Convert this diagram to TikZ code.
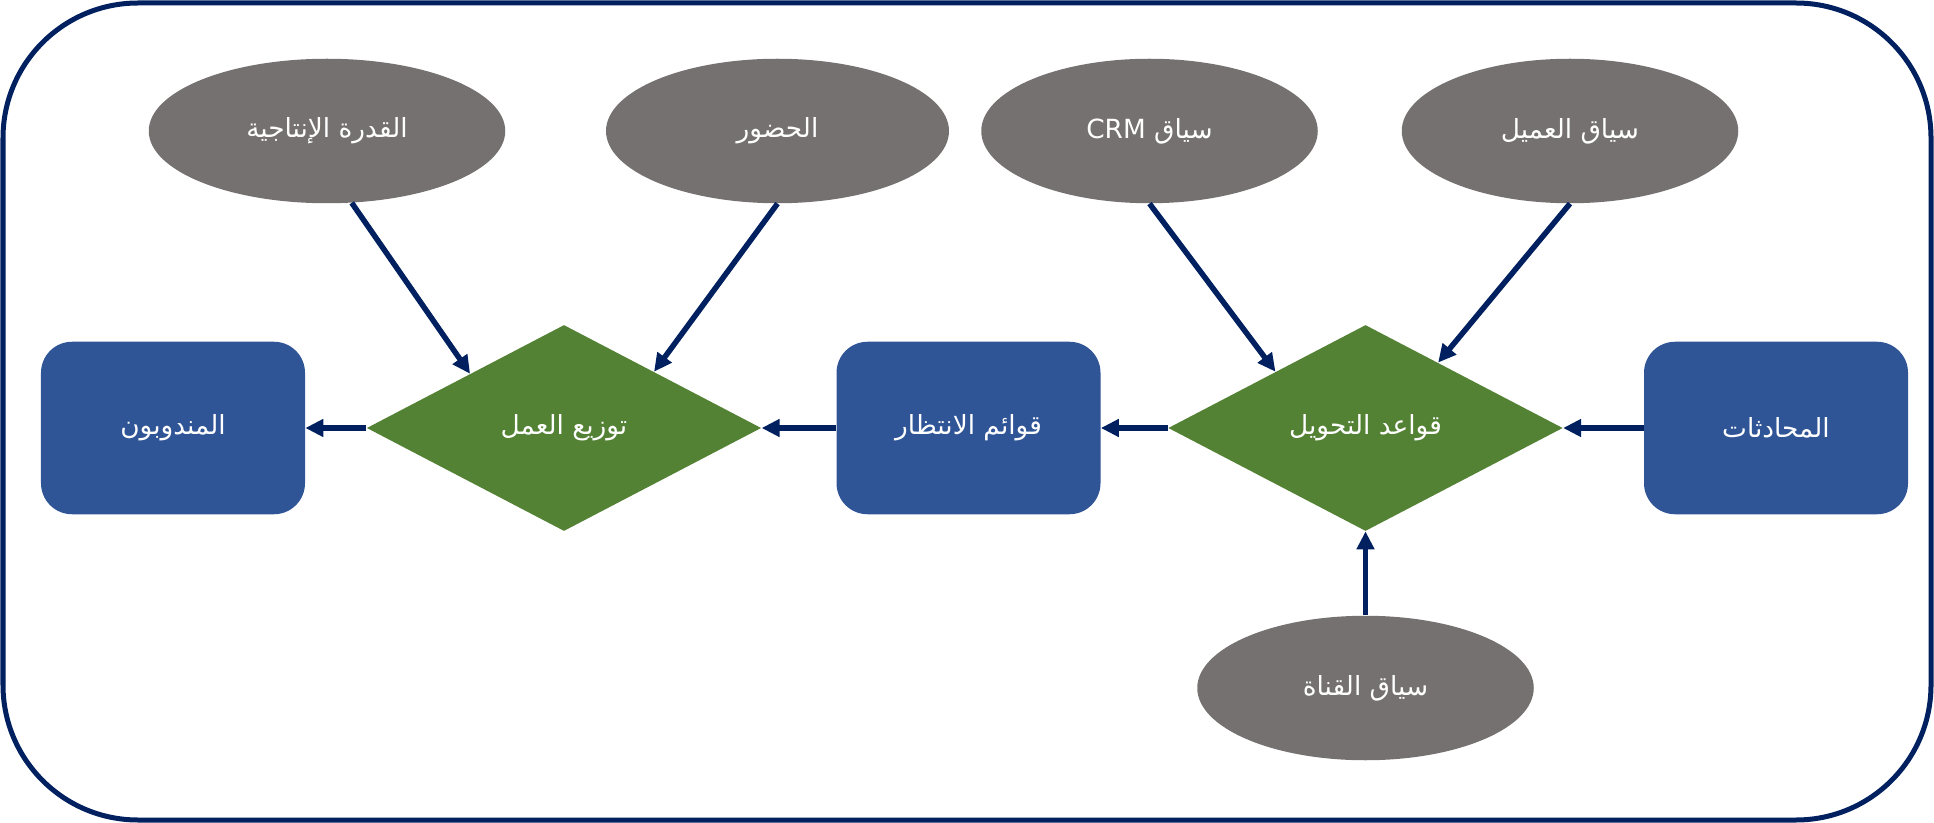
\documentclass[tikz,border=0pt]{standalone}
\usepackage{fontspec}
\newfontfamily\arabicfont[Script=Arabic]{DejaVu Sans}
\TeXXeTstate=1
\usepackage{tikz}
\usetikzlibrary{arrows.meta,shapes.geometric,positioning}
\definecolor{navy}{HTML}{002060}
\definecolor{ctxgray}{HTML}{767171}
\definecolor{boxblue}{HTML}{2F5597}
\definecolor{rulegreen}{HTML}{548235}

\begin{document}
\begin{tikzpicture}[->,>={Triangle[length=0.36cm,width=0.34cm]},on grid,node distance=8cm]
  \tikzstyle{every node}=[text=white,font=\arabicfont\fontsize{15}{18}\selectfont]
  \tikzstyle{ctx}=[ellipse,fill=ctxgray,minimum width=6.73cm,minimum height=2.89cm]
  \tikzstyle{stagebox}=[rounded corners=0.62cm,fill=boxblue,minimum width=5.28cm,minimum height=3.45cm]
  \tikzstyle{rulebox}=[diamond,fill=rulegreen,minimum width=7.89cm,minimum height=4.12cm,inner sep=0pt]
  \tikzstyle{every edge}=[draw,navy,line width=0.11cm]

  \useasboundingbox (0,0) rectangle (38.68,-16.46);
  \draw[-,navy,line width=0.1cm,rounded corners=2.7cm] (0.06,-0.06) rectangle (38.62,-16.40);

  \node[rulebox]  (routing)  at (27.31,-8.56)              {\beginR قواعد التحويل\endR};
  \node[stagebox] (convs)    [right=8.21cm of routing]     {\beginR المحادثات\endR};
  \node[stagebox] (queues)   [left=7.94cm of routing]      {\beginR قوائم الانتظار\endR};
  \node[rulebox]  (dist)     [left=8.09cm of queues]       {\beginR توزيع العمل\endR};
  \node[stagebox] (agents)   [left=7.82cm of dist]         {\beginR المندوبون\endR};
  \node[ctx,minimum width=7.13cm] (capacity) [above left=5.94cm and 4.74cm of dist]  {\beginR القدرة الإنتاجية\endR};
  \node[ctx,minimum width=6.86cm] (presence) [above right=5.94cm and 4.27cm of dist] {\beginR الحضور\endR};
  \node[ctx]      (crmctx)   [above left=5.94cm and 4.32cm of routing]  {\beginR سياق \beginL CRM\endL\endR};
  \node[ctx]      (custctx)  [above right=5.94cm and 4.09cm of routing] {\beginR سياق العميل\endR};
  \node[ctx]      (chanctx)  [below=5.2cm of routing]      {\beginR سياق القناة\endR};

  \path (capacity.-71) edge (dist.150);
  \path (presence.south) edge (dist.32);
  \path (crmctx.south) edge (routing.148);
  \path (custctx.south) edge (routing.42);
  \path (chanctx) edge (routing);
  \path (convs) edge (routing);
  \path (routing) edge (queues);
  \path (queues) edge (dist);
  \path (dist) edge (agents);

\end{tikzpicture}
\end{document}
